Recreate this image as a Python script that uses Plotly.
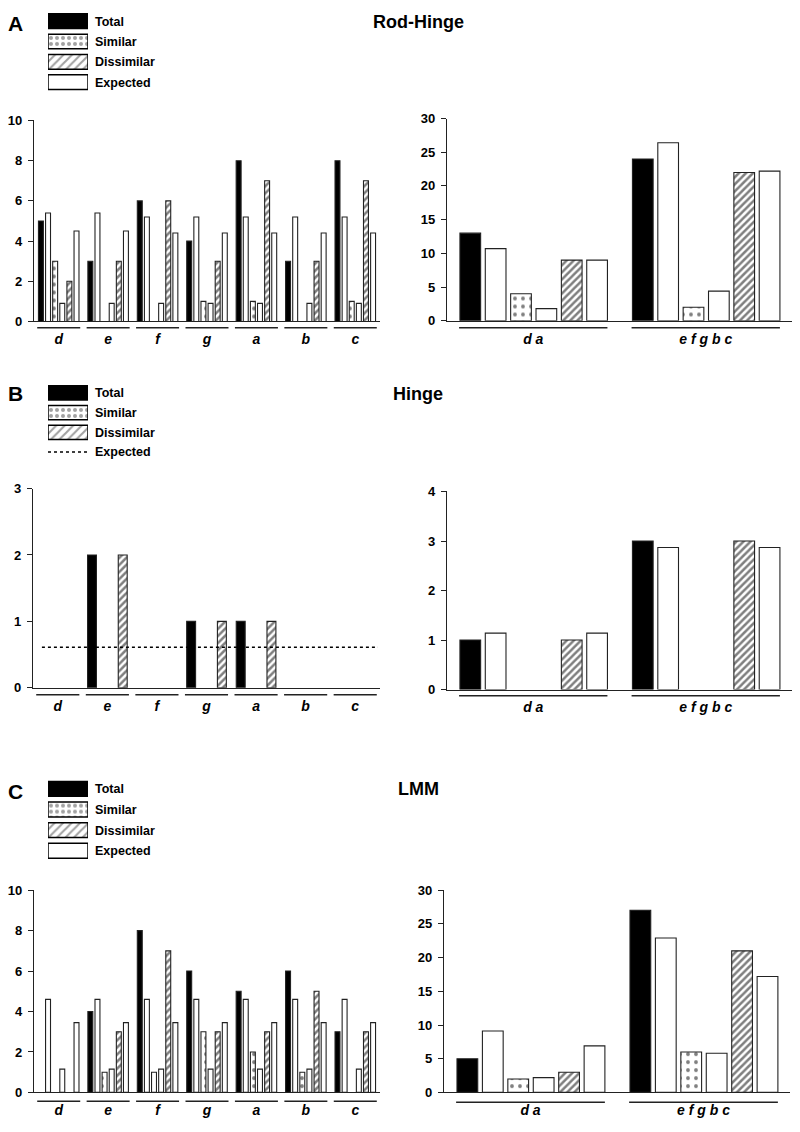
import plotly.graph_objects as go

W, H = 800, 1132
FONT = "Liberation Sans, Arial, sans-serif"

# ---------------- data ----------------
groups = ["d", "e", "f", "g", "a", "b", "c"]
pooled = ["d a", "e f g b c"]
legend_rows = ["Total", "Similar", "Dissimilar", "Expected"]

# Panel A: Rod-Hinge
A_total = [5, 3, 6, 4, 8, 3, 8]
A_total_exp = [5.4, 5.4, 5.2, 5.2, 5.2, 5.2, 5.2]
A_sim = [3, 0, 0, 1, 1, 0, 1]
A_sim_exp = [0.9, 0.9, 0.9, 0.9, 0.9, 0.9, 0.9]
A_dis = [2, 3, 6, 3, 7, 3, 7]
A_dis_exp = [4.5, 4.5, 4.4, 4.4, 4.4, 4.4, 4.4]
A_pool_total = [13, 24]
A_pool_total_exp = [10.7, 26.4]
A_pool_sim = [4, 2]
A_pool_sim_exp = [1.8, 4.4]
A_pool_dis = [9, 22]
A_pool_dis_exp = [9.0, 22.2]

# Panel B: Hinge
B_total = [0, 2, 0, 1, 1, 0, 0]
B_sim = [0, 0, 0, 0, 0, 0, 0]
B_dis = [0, 2, 0, 1, 1, 0, 0]
B_expected = 0.61
B_pool_total = [1, 3]
B_pool_total_exp = [1.14, 2.87]
B_pool_sim = [0, 0]
B_pool_sim_exp = [0, 0]
B_pool_dis = [1, 3]
B_pool_dis_exp = [1.14, 2.87]

# Panel C: LMM
C_total = [0, 4, 8, 6, 5, 6, 3]
C_total_exp = [4.6, 4.6, 4.6, 4.6, 4.6, 4.6, 4.6]
C_sim = [0, 1, 1, 3, 2, 1, 0]
C_sim_exp = [1.15, 1.15, 1.15, 1.15, 1.15, 1.15, 1.15]
C_dis = [0, 3, 7, 3, 3, 5, 3]
C_dis_exp = [3.45, 3.45, 3.45, 3.45, 3.45, 3.45, 3.45]
C_pool_total = [5, 27]
C_pool_total_exp = [9.1, 22.9]
C_pool_sim = [2, 6]
C_pool_sim_exp = [2.2, 5.8]
C_pool_dis = [3, 21]
C_pool_dis_exp = [6.9, 17.2]

# ---------------- helpers ----------------
def xd(a, b):
    return [a / W, b / W]

def yd(top, bottom):
    return [1 - bottom / H, 1 - top / H]

def py(p):
    return 1 - p / H

LINE = "#222222"
STYLES = {
    "total": dict(color="black", pattern=dict(shape="")),
    "exp": dict(color="white", pattern=dict(shape="")),
    "sim": dict(color="white", pattern=dict(shape=".", fgcolor="black", size=8, solidity=0.18)),
    "dis": dict(color="white", pattern=dict(shape="/", fgcolor="black", size=5, solidity=0.5)),
}

def clean(v):
    return [val if val else None for val in v]

fig = go.Figure()

def add_bars(series, xa, ya, start, pitch, width):
    for slot, (vals, style) in enumerate(series):
        st = STYLES[style]
        fig.add_trace(go.Bar(
            x=list(range(len(vals))), y=clean(vals),
            offset=start + slot * pitch, width=width,
            marker=dict(color=st["color"], pattern=st["pattern"],
                        line=dict(color=LINE, width=1.1)),
            xaxis=xa, yaxis=ya, showlegend=False, hoverinfo="skip"))

left6 = dict(start=-0.41, pitch=0.144, width=0.10)
right6 = dict(start=-0.425, pitch=0.147, width=0.12)

# A
add_bars([(A_total, "total"), (A_total_exp, "exp"), (A_sim, "sim"), (A_sim_exp, "exp"),
          (A_dis, "dis"), (A_dis_exp, "exp")], "x", "y", **left6)
add_bars([(A_pool_total, "total"), (A_pool_total_exp, "exp"), (A_pool_sim, "sim"),
          (A_pool_sim_exp, "exp"), (A_pool_dis, "dis"), (A_pool_dis_exp, "exp")], "x2", "y2", **right6)
# B
add_bars([(B_total, "total"), (B_sim, "sim"), (B_dis, "dis")], "x3", "y3",
         start=-0.40, pitch=0.31, width=0.18)
add_bars([(B_pool_total, "total"), (B_pool_total_exp, "exp"), (B_pool_sim, "sim"),
          (B_pool_sim_exp, "exp"), (B_pool_dis, "dis"), (B_pool_dis_exp, "exp")], "x4", "y4", **right6)
# C
add_bars([(C_total, "total"), (C_total_exp, "exp"), (C_sim, "sim"), (C_sim_exp, "exp"),
          (C_dis, "dis"), (C_dis_exp, "exp")], "x5", "y5", **left6)
add_bars([(C_pool_total, "total"), (C_pool_total_exp, "exp"), (C_pool_sim, "sim"),
          (C_pool_sim_exp, "exp"), (C_pool_dis, "dis"), (C_pool_dis_exp, "exp")], "x6", "y6", **right6)

# legends (as small bar charts)
def add_legend(xa, ya, dotted_expected):
    rows = legend_rows[:3] if dotted_expected else legend_rows
    keys = ["total", "sim", "dis", "exp"][:len(rows)]
    fig.add_trace(go.Bar(
        y=rows, x=[1] * len(rows), orientation="h", width=0.72, base=0,
        marker=dict(color=[STYLES[k]["color"] for k in keys],
                    pattern=dict(shape=[STYLES[k]["pattern"]["shape"] for k in keys],
                                 fgcolor="black", size=6, solidity=0.35),
                    line=dict(color="black", width=1.5)),
        xaxis=xa, yaxis=ya, showlegend=False, hoverinfo="skip"))
    if dotted_expected:
        fig.add_trace(go.Scatter(
            x=[0, 1], y=[legend_rows[3]] * 2, mode="lines",
            line=dict(color="black", width=1.5, dash="dot"),
            xaxis=xa, yaxis=ya, showlegend=False, hoverinfo="skip"))

add_legend("x7", "y7", False)
add_legend("x8", "y8", True)
add_legend("x9", "y9", False)

# ---------------- axes ----------------
tickfont = dict(family=FONT, size=13, color="black", weight="bold")
catfont = dict(family=FONT, size=14, color="black", weight="bold", style="italic")

panels = [
    ("", (34, 380), (115, 318.7), groups, 10, 2, (-0.5, 6.5)),
    ("2", (447, 792), (113, 318), pooled, 30, 5, (-0.5, 1.5)),
    ("3", (33, 380), (488, 690), groups, 3, 1, (-0.5, 6.5)),
    ("4", (447, 792), (491, 691.7), pooled, 4, 1, (-0.5, 1.5)),
    ("5", (34, 380), (895, 1100), groups, 10, 2, (-0.5, 6.5)),
    ("6", (444, 790), (895, 1100), pooled, 30, 5, (-0.5, 1.5)),
]
layout = {}
for suf, xdom, ydom, cats, ymax, dt, xr in panels:
    layout["xaxis" + suf] = dict(
        domain=xd(*xdom), anchor="y" + suf, range=list(xr),
        tickvals=list(range(len(cats))), ticktext=cats,
        showline=True, linecolor=LINE, linewidth=1.2, ticks="",
        ticklabelstandoff=5, tickfont=catfont, showgrid=False, zeroline=False,
        fixedrange=True)
    layout["yaxis" + suf] = dict(
        domain=yd(*ydom), anchor="x" + suf, range=[0, ymax],
        tickvals=list(range(0, ymax + 1, dt)),
        showline=True, linecolor=LINE, linewidth=1.2, ticks="outside",
        ticklen=5, tickcolor=LINE, tickfont=tickfont, showgrid=False,
        ticklabelstandoff=3, zeroline=False, fixedrange=True)

legend_boxes = [("7", (4, 86.5)), ("8", (381, 461)), ("9", (782, 865.5))]
for suf, (t, b) in legend_boxes:
    layout["xaxis" + suf] = dict(domain=xd(48, 88), anchor="y" + suf, range=[0, 1],
                                 visible=False, fixedrange=True)
    layout["yaxis" + suf] = dict(domain=yd(t, b), anchor="x" + suf, type="category",
                                 categoryorder="array", categoryarray=legend_rows,
                                 range=[3.5, -0.5], side="right", showline=False,
                                 ticks="", ticklabelstandoff=6, showgrid=False,
                                 zeroline=False, fixedrange=True,
                                 tickfont=dict(family=FONT, size=12.5, color="black", weight="bold"))

fig.update_layout(**layout)

# group underlines
underlines = [
    ("x", groups, 325, 0.435), ("x2", pooled, 325, 0.43),
    ("x3", groups, 697, 0.435), ("x4", pooled, 698, 0.43),
    ("x5", groups, 1109, 0.435), ("x6", pooled, 1110, 0.43),
]
for xa, cats, ypx, half in underlines:
    for i in range(len(cats)):
        fig.add_shape(type="line", xref=xa, yref="paper", x0=i - half, x1=i + half,
                      y0=py(ypx), y1=py(ypx), line=dict(color=LINE, width=1.6))

# expected line in B left
fig.add_shape(type="line", xref="x3", yref="y3", x0=-0.32, x1=6.46,
              y0=B_expected, y1=B_expected,
              line=dict(color="black", width=1.6, dash="dot"))

# titles & panel letters
for letter, title, ly, ty in [("A", "Rod-Hinge", 17, 15), ("B", "Hinge", 392, 392), ("C", "LMM", 795, 792)]:
    fig.add_annotation(text=letter, x=15 / W, y=py(ly), xref="paper", yref="paper",
                       showarrow=False, xanchor="center", yanchor="middle",
                       font=dict(family=FONT, size=21, color="black", weight="bold"))
    fig.add_annotation(text=title, x=418 / W, y=py(ty), xref="paper", yref="paper",
                       showarrow=False, xanchor="center", yanchor="middle",
                       font=dict(family=FONT, size=18, color="black", weight="bold"))

fig.update_layout(
    width=W, height=H, autosize=False,
    margin=dict(l=0, r=0, t=0, b=0),
    paper_bgcolor="white", plot_bgcolor="white",
    barmode="overlay", showlegend=False,
    font=dict(family=FONT, color="black"),
)

fig.write_html("out.html", config={"displayModeBar": False},
               post_script="document.body.style.margin='0';document.body.style.padding='0';")
